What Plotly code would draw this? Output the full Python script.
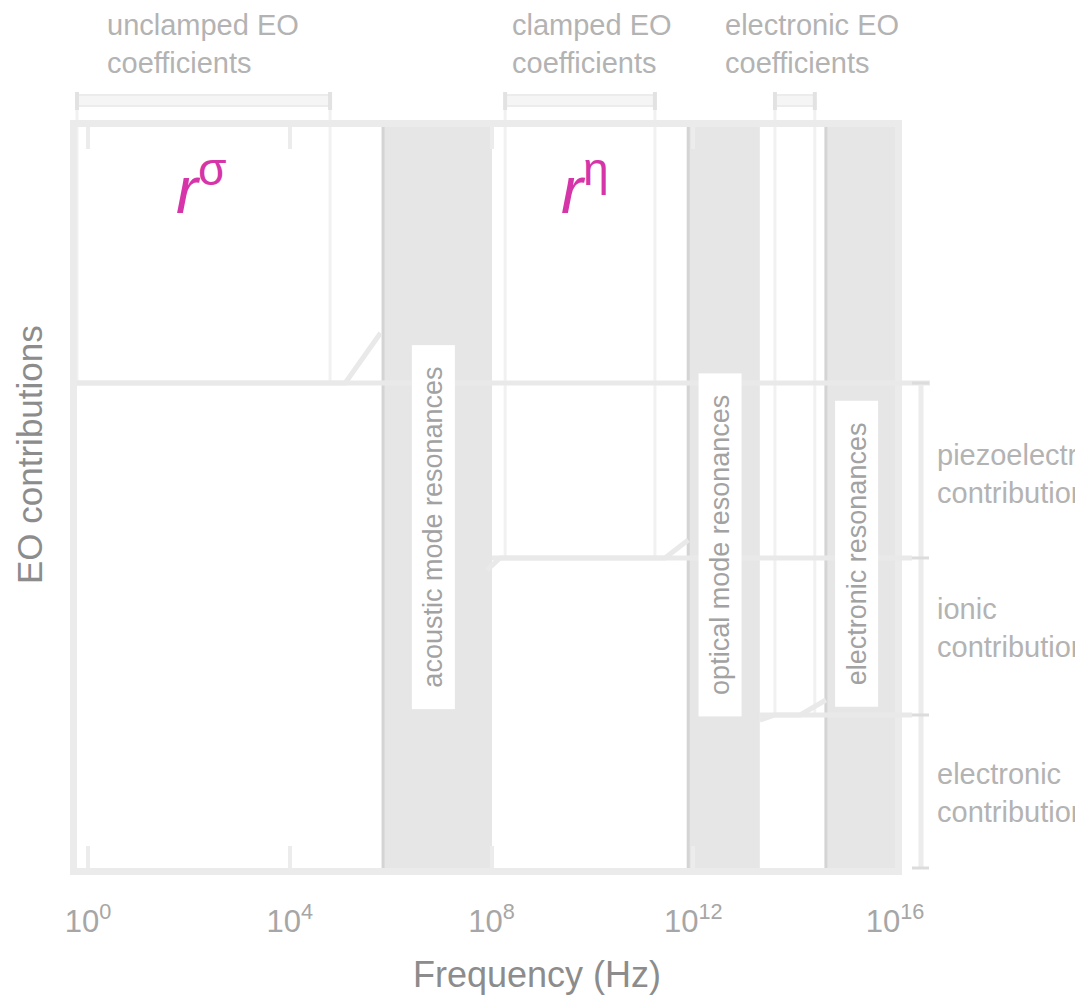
import numpy as np
import plotly.graph_objects as go

# ---------------- data ----------------
tick_vals = [1e0, 1e4, 1e8, 1e12, 1e16]
tick_text = ["10<sup>0</sup>", "10<sup>4</sup>", "10<sup>8</sup>", "10<sup>12</sup>", "10<sup>16</sup>"]

# resonance bands (Hz)
band_lo = [10**5.85, 10**11.90, 10**14.63]
band_hi = [10**8.01, 10**13.32, 10**16.0]
band_labels = ["acoustic mode resonances", "optical mode resonances", "electronic resonances"]
band_label_y = [0.460, 0.436, 0.424]

# contribution levels (relative units)
level_names = ["unclamped", "clamped", "electronic"]
level_values = [0.6545, 0.4184, 0.2065]

# schematic EO-coefficient curve (segments separated by None)
curve_x = [10**-0.218, 10**5.10, 10**5.80, None,
           10**7.91, 10**8.17, 10**11.44, 10**11.90, None,
           10**13.32, 10**13.62, 10**14.12, 10**14.63]
curve_y = [0.6545, 0.6545, 0.722, None,
           0.402, 0.4184, 0.4184, 0.4426, None,
           0.1997, 0.2065, 0.2065, 0.2267]

# measurement windows (Hz) for each coefficient type
window_lo = [10**-0.218, 10**8.27, 10**13.62]
window_hi = [10**4.80, 10**11.24, 10**14.41]
window_titles = ["unclamped EO<br>coefficients", "clamped EO<br>coefficients", "electronic EO<br>coefficients"]

contrib_labels = ["piezoelectric<br>contribution", "ionic<br>contribution", "electronic<br>contribution"]

# ---------------- layout constants (screen pixels) ----------------
OFF = 8                      # page body margin
W, H = 1083 - OFF, 997 - OFF
L, R, T, B = 77, 895, 127, 868
XMIN, XMAX = -0.218, 16.0

def xp(v):  # Hz -> paper x
    return (np.log10(v) - XMIN) / (XMAX - XMIN)

def pxx(s):  # screen pixel -> paper x
    return (s - L) / (R - L)

def pxy(s):  # screen pixel -> paper y
    return (B - s) / (B - T)

LINE = "#e9e9e9"
FAINT = "#f1f1f1"
MAG = "#d535a8"
FONT = "Liberation Sans"
NB = "\u00a0\u00a0"

fig = go.Figure()

shapes = []
for lo, hi in zip(band_lo, band_hi):
    shapes.append(dict(type="rect", xref="x", yref="paper", x0=lo, x1=hi, y0=0, y1=1,
                       fillcolor="#e6e6e6", line=dict(width=0), layer="below"))
    shapes.append(dict(type="line", xref="x", yref="paper", x0=lo, x1=lo, y0=0, y1=1,
                       line=dict(color="#d4d4d4", width=3), layer="below"))

# level reference lines
shapes.append(dict(type="line", xref="paper", yref="paper", x0=0, x1=pxx(930),
                   y0=level_values[0], y1=level_values[0], line=dict(color=LINE, width=5)))
shapes.append(dict(type="line", xref="paper", yref="paper", x0=xp(band_hi[0]), x1=pxx(912),
                   y0=level_values[1], y1=level_values[1], line=dict(color=LINE, width=5)))
shapes.append(dict(type="line", xref="paper", yref="paper", x0=xp(band_hi[1]), x1=pxx(912),
                   y0=level_values[2], y1=level_values[2], line=dict(color=LINE, width=5)))

# right bracket
bx = pxx(921)
shapes.append(dict(type="line", xref="paper", yref="paper", x0=bx, x1=bx, y0=0, y1=level_values[0],
                   line=dict(color="#ececec", width=5)))
for lv in [0] + level_values:
    shapes.append(dict(type="line", xref="paper", yref="paper", x0=pxx(912), x1=pxx(929),
                       y0=lv, y1=lv, line=dict(color="#dcdcdc", width=3)))

# measurement windows: top brackets and vertical guides
for lo, hi, lv in zip(window_lo, window_hi, level_values):
    x0, x1 = xp(lo), xp(hi)
    shapes.append(dict(type="rect", xref="paper", yref="paper", x0=x0, x1=x1,
                       y0=pxy(106), y1=pxy(95), fillcolor="#f5f5f5",
                       line=dict(color="#ececec", width=2)))
    for xx in (x0, x1):
        shapes.append(dict(type="line", xref="paper", yref="paper", x0=xx, x1=xx,
                           y0=pxy(92), y1=pxy(110), line=dict(color="#e2e2e2", width=4)))
        shapes.append(dict(type="line", xref="paper", yref="paper", x0=xx, x1=xx,
                           y0=lv, y1=pxy(100), line=dict(color=FAINT, width=3), layer="below"))

fig.add_trace(go.Scatter(x=curve_x, y=curve_y, mode="lines", connectgaps=False,
                         line=dict(color=LINE, width=5), hoverinfo="skip", showlegend=False))

annotations = []
for lo, hi, lab, yy in zip(band_lo, band_hi, band_labels, band_label_y):
    annotations.append(dict(x=(np.log10(lo) + np.log10(hi)) / 2 - 0.08, y=yy, xref="x", yref="paper",
                            xanchor="center", yanchor="middle",
                            text=NB + lab + NB, textangle=-90, showarrow=False, bgcolor="white",
                            borderpad=6, font=dict(family=FONT, size=27, color="#a2a2a2")))
for t, sx in zip(window_titles, [105, 510, 723]):
    annotations.append(dict(x=pxx(sx), y=pxy(7), xref="paper", yref="paper", text=t,
                            xanchor="left", yanchor="top", align="left", showarrow=False,
                            font=dict(family=FONT, size=29, color="#b3b3b3")))
for lab, yc in zip(contrib_labels, [474, 628, 793]):
    annotations.append(dict(x=pxx(935), y=pxy(yc), xref="paper", yref="paper", text=lab,
                            xanchor="left", yanchor="middle", align="left", showarrow=False,
                            font=dict(family=FONT, size=29, color="#b3b3b3")))
annotations.append(dict(x=pxx(201), y=pxy(141), xref="paper", yref="paper",
                        xanchor="center", yanchor="top",
                        text="<i>r</i><sup>σ</sup>", showarrow=False,
                        font=dict(family=FONT, size=66, color=MAG)))
annotations.append(dict(x=pxx(585), y=pxy(141), xref="paper", yref="paper",
                        xanchor="center", yanchor="top",
                        text="<i>r</i><sup>η</sup>", showarrow=False,
                        font=dict(family=FONT, size=66, color=MAG)))
annotations.append(dict(x=pxx(537), y=pxy(975), xref="paper", yref="paper", text="Frequency (Hz)",
                        xanchor="center", yanchor="middle",
                        showarrow=False, font=dict(family=FONT, size=36, color="#8c8c8c")))
annotations.append(dict(x=pxx(30), y=pxy(455), xref="paper", yref="paper", text="EO contributions",
                        xanchor="center", yanchor="middle",
                        textangle=-90, showarrow=False, font=dict(family=FONT, size=35, color="#8c8c8c")))

fig.update_layout(
    width=W, height=H,
    margin=dict(l=L - OFF, r=W - (R - OFF), t=T - OFF, b=H - (B - OFF), pad=0),
    paper_bgcolor="white", plot_bgcolor="white",
    shapes=shapes, annotations=annotations,
    xaxis=dict(type="log", range=[XMIN, XMAX], tickvals=tick_vals, ticktext=tick_text,
               showgrid=False, zeroline=False, showline=True, linecolor="#ebebeb", linewidth=7,
               mirror="allticks", ticks="inside", ticklen=22, tickwidth=4, tickcolor="#ececec",
               ticklabelstandoff=20,
               tickfont=dict(family=FONT, size=31, color="#a6a6a6")),
    yaxis=dict(range=[0, 1], showticklabels=False, showgrid=False, zeroline=False,
               showline=True, linecolor="#ebebeb", linewidth=7, mirror=True, ticks=""),
)

fig.write_html("out.html")
